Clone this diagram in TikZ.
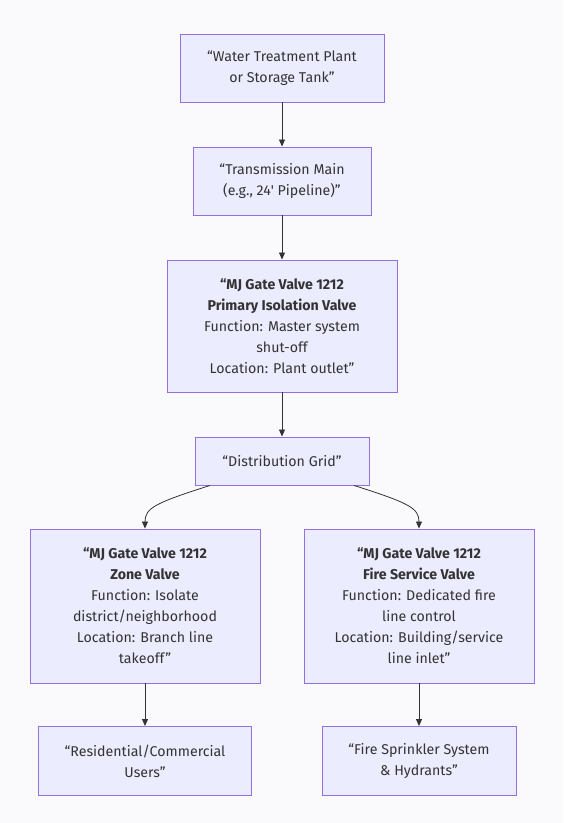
\documentclass[tikz,border=0pt]{standalone}
\usepackage{fontspec}
\setmainfont{Fira Sans}
\usetikzlibrary{arrows.meta,calc}
\definecolor{bg}{HTML}{FAFAFD}
\definecolor{boxfill}{HTML}{ECECFF}
\definecolor{boxline}{HTML}{9370DB}
\definecolor{ink}{HTML}{333333}
\begin{document}
\begin{tikzpicture}[x=1pt,y=-1pt,
  box/.style={draw=boxline, fill=boxfill, line width=0.9pt, align=center,
    text=ink, inner sep=0pt, font=\fontsize{14.2}{21}\selectfont},
  conn/.style={draw=ink, line width=0.8pt, -{Triangle[length=7pt,width=6pt]}}]
\fill[bg] (0,0) rectangle (563,823);
\useasboundingbox (0,0) rectangle (563,823);
\node[box, minimum width=204pt, minimum height=68pt] (wtp) at (282,68)
  {“Water Treatment Plant\\or Storage Tank”};
\node[box, minimum width=178pt, minimum height=68pt] (tm) at (282,181)
  {“Transmission Main\\(e.g., 24\textquotesingle{} Pipeline)”};
\node[box, minimum width=230pt, minimum height=132pt] (pv) at (282,326)
  {\textbf{“MJ Gate Valve 1212}\\\textbf{Primary Isolation Valve}\\Function: Master system\\shut-off\\Location: Plant outlet”};
\node[box, minimum width=174pt, minimum height=48pt] (dg) at (282,461)
  {“Distribution Grid”};
\node[box, minimum width=230pt, minimum height=154pt] (zv) at (145,606)
  {\textbf{“MJ Gate Valve 1212}\\\textbf{Zone Valve}\\Function: Isolate\\district/neighborhood\\Location: Branch line\\takeoff”};
\node[box, minimum width=230pt, minimum height=154pt] (fv) at (419,606)
  {\textbf{“MJ Gate Valve 1212}\\\textbf{Fire Service Valve}\\Function: Dedicated fire\\line control\\Location: Building/service\\line inlet”};
\node[box, minimum width=213pt, minimum height=69pt] (ru) at (145,761)
  {“Residential/Commercial\\Users”};
\node[box, minimum width=194pt, minimum height=69pt] (fs) at (419,761)
  {“Fire Sprinkler System\\\& Hydrants”};
\draw[conn] (wtp) -- (tm);
\draw[conn] (tm) -- (pv);
\draw[conn] (pv) -- (dg);
\draw[conn] ($(dg.south)+(-72,0)$) .. controls (155,503) and (145,508) .. (zv.north);
\draw[conn] ($(dg.south)+(72,0)$) .. controls (409,503) and (419,508) .. (fv.north);
\draw[conn] (zv) -- (ru);
\draw[conn] (fv) -- (fs);
\end{tikzpicture}
\end{document}
